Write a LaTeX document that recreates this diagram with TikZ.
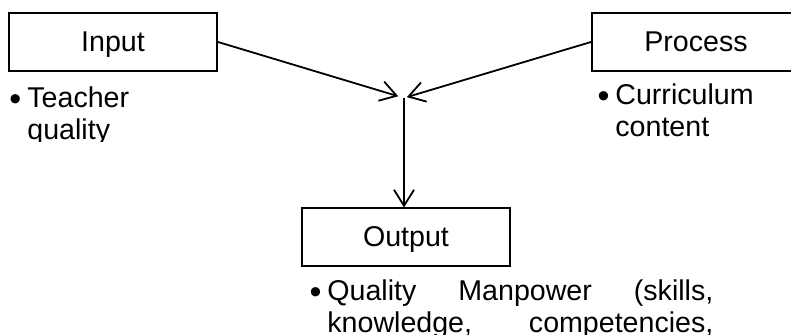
\documentclass[tikz,border=0pt]{standalone}
\usepackage{fontspec}
\setmainfont{Liberation Sans}
\usetikzlibrary{arrows.meta, positioning}
\newcommand{\itemdot}{\makebox[0pt][r]{\raisebox{-1.1pt}{\fontsize{17}{16}\selectfont\textbullet}\hspace{3pt}}}

\begin{document}
\begin{tikzpicture}[
    x=0.5pt, y=-0.5pt,
    font=\fontsize{14.3}{16}\selectfont,
    stage/.style={draw, line width=1pt, minimum width=104pt, minimum height=29pt, inner sep=0pt,
      text height=9.5pt, text depth=0pt},
    point/.style={anchor=base west, inner sep=0pt, align=left},
    arrow/.style={-{Straight Barb[length=8pt, width=10pt]}, line width=0.9pt}
  ]
    \useasboundingbox (0,0) rectangle (791,335);
    \clip (0,0) rectangle (791,335);

    \node[stage] (input) at (113,42) {Input};
    \node[stage] (process) at (696,42) {Process};
    \node[stage] (output) at (406,237.5) {Output};

    \begin{scope}
      \clip (0,0) rectangle (300,142);
      \node[point, text width=70pt] (inlist) at (27,108) {\itemdot Teacher\\quality};
    \end{scope}
    \node[point, text width=80pt] (proclist) at (615,105) {\itemdot Curriculum\\content};
    \node[point, text width=193pt] (outlist) at (327,301) {\itemdot Quality\hfill Manpower\hfill (skills,\\knowledge,\hfill competencies,};

    \coordinate (hub) at (404,98);
    \draw[arrow, shorten >=3pt] (input.east) -- (hub);
    \draw[arrow, shorten >=1.5pt] (process.west) -- (hub);
    \draw[arrow] (hub) -- (hub |- output.north);
  \end{tikzpicture}
\end{document}
